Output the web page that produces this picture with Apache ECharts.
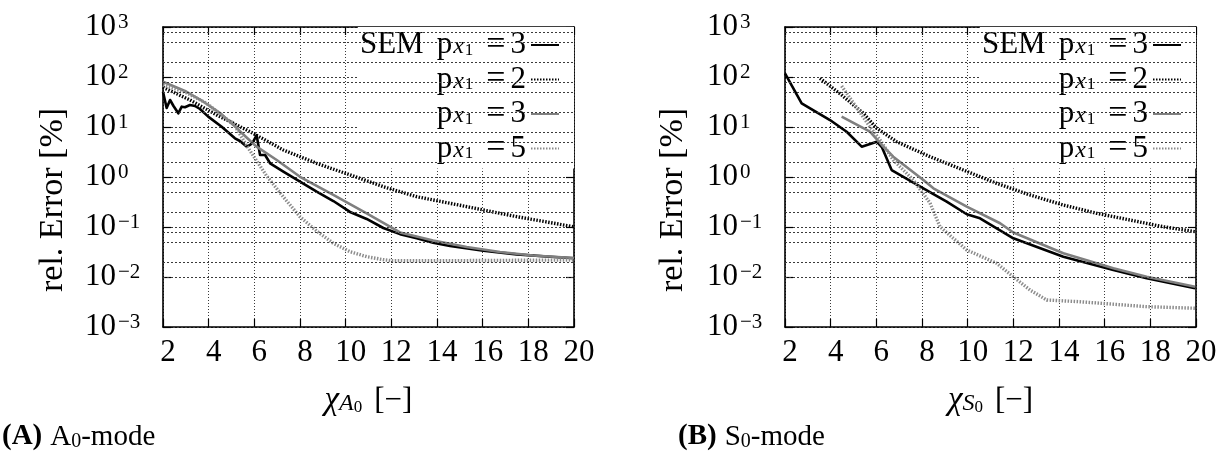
<!DOCTYPE html>
<html>
<head>
<meta charset="utf-8">
<script src="https://cdn.jsdelivr.net/npm/echarts@6/dist/echarts.min.js"></script>
<style>
html, body { margin: 0; padding: 0; background: #fff; }
#chart { width: 1222px; height: 459px; }
</style>
</head>
<body>
<div id="chart"></div>
<script>
// ---- data -------------------------------------------------------------
const xTicks = [2, 4, 6, 8, 10, 12, 14, 16, 18, 20];
const yExponents = [-3, -2, -1, 0, 1, 2, 3];
const yMinorSteps = [2, 5, 8];
const seriesNames = ['SEM p=3', 'p=2', 'p=3', 'p=5'];

// A0-mode: relative error [%] over chi
const a0Sem3 = [[2.0,50.8],[2.16,24],[2.31,34.7],[2.46,26.3],[2.67,18.8],[2.82,25.5],[2.96,24.8],[3.18,27.5],[3.4,26.3],[3.62,22.9],[3.98,16.1],[4.57,10.1],[5.15,5.94],[5.37,5.25],[5.67,4.04],[5.81,4.37],[5.94,5.0],[6.1,6.9],[6.25,2.75],[6.47,2.75],[6.69,1.88],[7.27,1.28],[8.0,0.805],[8.73,0.51],[9.46,0.331],[10.19,0.2],[10.92,0.145],[11.65,0.0955],[12.38,0.072],[13.11,0.0594],[13.83,0.0485],[14.57,0.0417],[16.03,0.0336],[17.49,0.0284],[18.95,0.0255],[20,0.0237]];
const a0P2 = [[2,62.2],[3.18,34.7],[4.35,17.4],[5.81,8.05],[7.27,3.47],[8.73,1.88],[10.19,1.1],[11.65,0.64],[13.11,0.404],[14.57,0.298],[16.03,0.219],[17.49,0.161],[20,0.101]];
const a0P3 = [[2,80.5],[2.96,52.5],[3.77,32],[4.5,19],[5.08,11],[5.59,6.6],[6.1,4.04],[6.98,2.19],[8,1.01],[9.46,0.437],[10.92,0.188],[12.38,0.078],[13.83,0.0537],[15.3,0.0398],[16.76,0.0316],[18.2,0.0269],[20,0.024]];
const a0P5 = [[2,69],[2.96,50],[3.91,29.8],[4.72,15.1],[5.08,11.9],[5.67,4.2],[6.54,1.05],[7.27,0.4],[8.0,0.16],[8.73,0.083],[9.46,0.0472],[10.19,0.0321],[10.92,0.0255],[11.65,0.0222],[12,0.0212],[14.57,0.0212],[20,0.0219]];

// S0-mode: relative error [%] over chi
const s0Sem3 = [[2,118.6],[2.73,29.8],[3.97,13.8],[4.7,8.05],[5.36,4.04],[6.02,5.08],[6.24,3.98],[6.67,1.38],[7.62,0.776],[8.5,0.457],[9.08,0.321],[9.96,0.18],[10.54,0.149],[12,0.0594],[14.19,0.0255],[16.38,0.0138],[17.84,0.0094],[19.96,0.00594]];
const s0P2 = [[3.53,94.2],[4.48,43.7],[5.43,18.8],[6.02,9.42],[6.89,5.08],[8.35,2.55],[9.81,1.38],[11.27,0.748],[12.73,0.437],[14.19,0.275],[15.65,0.188],[17.11,0.138],[18.57,0.101],[19.96,0.0805]];
const s0P3 = [[4.48,16.1],[5.72,8.05],[6.24,4.37],[6.74,2.55],[8.06,0.871],[8.5,0.594],[9.96,0.255],[11.42,0.119],[12,0.0776],[14.19,0.0298],[16.38,0.0149],[17.84,0.0101],[19.96,0.0064]];
const s0P5 = [[4.48,66],[5.72,10.1],[6.16,5.5],[6.74,2.19],[7.62,0.87],[8.35,0.302],[8.79,0.101],[9.96,0.0347],[11.27,0.0188],[12,0.0101],[12.73,0.0055],[13.46,0.00347],[14.92,0.0032],[17.84,0.00255],[19.96,0.00237]];

// ---- styling ------------------------------------------------------------
const FONT = '"Liberation Serif", "Times New Roman", serif';
const FS = 31;
const GRID_LINE = { color: '#3a3a3a', width: 1, type: [2, 2] };
const VGRID_LINE = { color: '#3a3a3a', width: 1, type: [1, 2] };

const lineStyles = {
  'SEM p=3': { color: '#000000', width: 2.6, type: 'solid' },
  'p=2':     { color: '#000000', width: 3.4, type: [1.5, 1.5] },
  'p=3':     { color: '#7f7f7f', width: 2.6, type: 'solid' },
  'p=5':     { color: '#8c8c8c', width: 3.4, type: [1.5, 1.5] }
};

const legendText = {
  'SEM p=3': '{m|SEM}{g| }{m|p}{x|x}{o|1}{q|=}{m|3}',
  'p=2': '{m|p}{x|x}{o|1}{q|=}{m|2}',
  'p=3': '{m|p}{x|x}{o|1}{q|=}{m|3}',
  'p=5': '{m|p}{x|x}{o|1}{q|=}{m|5}'
};

const legendRich = {
  m: { fontFamily: FONT, fontSize: FS, lineHeight: 28, color: '#000' },
  g: { fontFamily: FONT, fontSize: FS, lineHeight: 28, width: 13, color: '#000' },
  x: { fontFamily: FONT, fontSize: 24, fontStyle: 'italic', lineHeight: 8, verticalAlign: 'bottom', color: '#000', padding: [0, 1, 0, 1] },
  o: { fontFamily: FONT, fontSize: 17, lineHeight: 2, verticalAlign: 'bottom', color: '#000' },
  q: { fontFamily: FONT, fontSize: 34, lineHeight: 28, color: '#000', padding: [0, 5, 0, 13] }
};

function expLabel(v) {
  const e = Math.round(Math.log10(v));
  return '{b|10}{e|' + (e < 0 ? '\u2212' + (-e) : String(e)) + '}';
}

function makeX(gridIndex, position, nameRich) {
  const bottom = position === 'bottom';
  return {
    type: 'value', gridIndex: gridIndex, position: position,
    min: xTicks[0], max: xTicks[xTicks.length - 1], interval: 2,
    axisLine: { show: true, onZero: false, lineStyle: { color: '#000', width: 1.6 } },
    axisTick: { show: true, inside: true, length: 8, lineStyle: { color: '#000', width: 1.2 } },
    axisLabel: bottom ? {
      show: true, color: '#000', fontFamily: FONT, fontSize: FS, margin: 10,
      verticalAlign: 'top', padding: [0, 0, 0, 10]
    } : { show: false },
    splitLine: { show: bottom, lineStyle: VGRID_LINE },
    name: bottom ? nameRich : '',
    nameLocation: 'middle', nameGap: 58,
    nameTextStyle: {
      color: '#000', fontFamily: FONT, fontSize: FS, verticalAlign: 'top',
      rich: {
        i: { fontFamily: FONT, fontSize: 33, fontStyle: 'italic', lineHeight: 31, color: '#000' },
        s: { fontFamily: FONT, fontSize: 24, fontStyle: 'italic', lineHeight: 8, verticalAlign: 'bottom', color: '#000' },
        z: { fontFamily: FONT, fontSize: 17, lineHeight: 2, verticalAlign: 'bottom', color: '#000' },
        n: { fontFamily: FONT, fontSize: FS, lineHeight: 31, color: '#000', padding: [0, 0, 0, 12] }
      }
    }
  };
}

function makeY(gridIndex, position) {
  const left = position === 'left';
  return {
    type: 'log', logBase: 10, gridIndex: gridIndex, position: position,
    min: Math.pow(10, yExponents[0]), max: Math.pow(10, yExponents[yExponents.length - 1]),
    splitNumber: 6,
    axisLine: { show: true, lineStyle: { color: '#000', width: 1.6 } },
    axisTick: { show: true, inside: true, length: 8, lineStyle: { color: '#000', width: 1.2 } },
    axisLabel: left ? {
      show: true, align: 'left', margin: 78, formatter: expLabel,
      rich: {
        b: { fontFamily: FONT, fontSize: FS, lineHeight: 31, color: '#000' },
        e: { fontFamily: FONT, fontSize: 21, lineHeight: 19, verticalAlign: 'top', color: '#000', padding: [0, 0, 0, 2] }
      }
    } : { show: false },
    splitLine: { show: left, lineStyle: GRID_LINE },
    minorTick: { show: false },
    minorSplitLine: { show: false }
  };
}

// horizontal grid lines at 2, 5 and 8 times each power of ten
const minorValues = [];
yExponents.slice(0, -1).forEach(function (e) {
  yMinorSteps.forEach(function (m) { minorValues.push(m * Math.pow(10, e)); });
});

function gridHelper(xi, yi) {
  return {
    type: 'line', name: 'grid', xAxisIndex: xi, yAxisIndex: yi, data: [], z: 1,
    silent: true, symbol: 'none',
    markLine: {
      silent: true, symbol: ['none', 'none'], animation: false,
      label: { show: false }, lineStyle: GRID_LINE,
      emphasis: { disabled: true },
      data: minorValues.map(function (v) { return { yAxis: v }; })
    }
  };
}

function curve(name, data, xi, yi) {
  return {
    type: 'line', name: name, data: data, xAxisIndex: xi, yAxisIndex: yi,
    symbol: 'none', smooth: false, z: 3,
    itemStyle: { color: lineStyles[name].color },
    lineStyle: Object.assign({ cap: 'butt', join: 'round' }, lineStyles[name]),
    emphasis: { disabled: true }
  };
}

function legendAt(right) {
  return {
    orient: 'vertical', align: 'right', right: right, top: 27,
    padding: [1, 14, 3, 2], itemGap: 0.5, itemWidth: 28, itemHeight: 14,
    backgroundColor: '#ffffff', selectedMode: false,
    itemStyle: { opacity: 0 },
    data: seriesNames.slice(),
    formatter: function (n) { return legendText[n]; },
    textStyle: { rich: legendRich, color: '#000' }
  };
}

const captionRich = {
  b: { fontFamily: FONT, fontSize: 29, fontWeight: 'bold', lineHeight: 30, fill: '#000' },
  g: { fontFamily: FONT, fontSize: 29, lineHeight: 30, width: 8 },
  r: { fontFamily: FONT, fontSize: 29, lineHeight: 30, fill: '#000' },
  s: { fontFamily: FONT, fontSize: 20, lineHeight: 6, verticalAlign: 'bottom', fill: '#000' }
};

const chart = echarts.init(document.getElementById('chart'), null, { renderer: 'canvas' });
chart.setOption({
  animation: false,
  backgroundColor: '#ffffff',
  grid: [
    { left: 163, top: 27, width: 411, height: 300, outerBoundsMode: 'none', containLabel: false },
    { left: 785, top: 27, width: 411, height: 300, outerBoundsMode: 'none', containLabel: false }
  ],
  xAxis: [
    makeX(0, 'bottom', '{i|\u03c7}{s|A}{z|0}{n|[\u2212]}'),
    makeX(0, 'top', ''),
    makeX(1, 'bottom', '{i|\u03c7}{s|S}{z|0}{n|[\u2212]}'),
    makeX(1, 'top', '')
  ],
  yAxis: [makeY(0, 'left'), makeY(0, 'right'), makeY(1, 'left'), makeY(1, 'right')],
  legend: [legendAt(1222 - 574), legendAt(1222 - 1196)],
  series: [
    gridHelper(0, 0), gridHelper(2, 2),
    curve('SEM p=3', a0Sem3, 0, 0), curve('p=2', a0P2, 0, 0), curve('p=3', a0P3, 0, 0), curve('p=5', a0P5, 0, 0),
    curve('SEM p=3', s0Sem3, 2, 2), curve('p=2', s0P2, 2, 2), curve('p=3', s0P3, 2, 2), curve('p=5', s0P5, 2, 2)
  ],
  graphic: [
    { type: 'text', x: 53, y: 200, rotation: Math.PI / 2,
      style: { text: 'rel. Error [%]', fontFamily: FONT, fontSize: 34, fill: '#000', align: 'center', verticalAlign: 'middle' } },
    { type: 'text', x: 673, y: 200, rotation: Math.PI / 2,
      style: { text: 'rel. Error [%]', fontFamily: FONT, fontSize: 34, fill: '#000', align: 'center', verticalAlign: 'middle' } },
    { type: 'text', x: 2, y: 437,
      style: { text: '{b|(A)}{g| }{r|A}{s|0}{r|-mode}', fill: '#000', verticalAlign: 'middle', rich: captionRich } },
    { type: 'text', x: 678, y: 437,
      style: { text: '{b|(B)}{g| }{r|S}{s|0}{r|-mode}', fill: '#000', verticalAlign: 'middle', rich: captionRich } }
  ]
});
</script>
</body>
</html>
